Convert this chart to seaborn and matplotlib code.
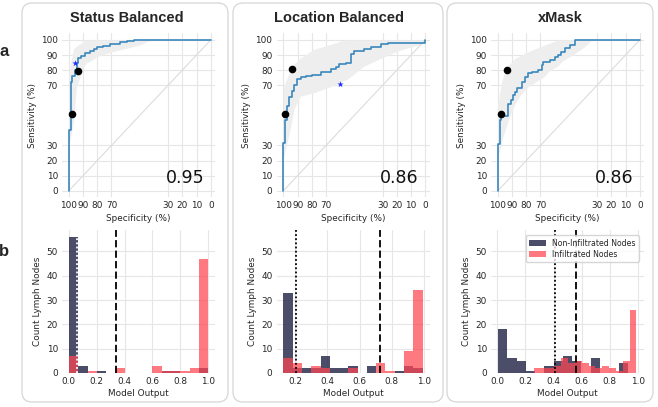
import numpy as np
import pandas as pd
import matplotlib
matplotlib.use("Agg")
import matplotlib.pyplot as plt
import seaborn as sns
from matplotlib.patches import FancyBboxPatch
from matplotlib.transforms import IdentityTransform

# ---------------- data ----------------
titles = ["Status Balanced", "Location Balanced", "xMask"]
auc_labels = ["0.95", "0.86", "0.86"]

# ROC curves: (specificity, sensitivity) at top corner of each vertical step
spec1 = [100, 100, 98.5, 97.5, 96.0, 94.6, 93.4, 91.8, 88.7, 85.2, 82.5, 80.5, 75.8, 71.0, 64.0, 59.3, 54.0, 0]
sens1 = [0, 40, 72, 76, 80, 84.4, 87.8, 89.3, 91.0, 92.7, 94.0, 95.1, 96.2, 97.3, 98.4, 99.0, 100, 100]
spec2 = [100, 100, 98.8, 97.4, 96.2, 93.9, 92.5, 90.3, 87.9, 84.4, 79.7, 73.8, 66.7, 63.1, 60.8, 56.0, 52.5, 50.0, 43.0, 38.3, 31.2, 26.5, 0, 0]
sens2 = [0, 31.6, 47, 56, 62, 66, 70, 74, 75.3, 76, 77, 78.7, 80.4, 82, 83.8, 85, 90.4, 92.7, 93.8, 95.6, 97.3, 98.2, 98.2, 100]
spec3 = [100, 100, 98.8, 97.9, 92.7, 90.8, 89.2, 88.0, 86.9, 83.3, 81.0, 78.6, 76.3, 71.6, 69.2, 68.0, 63.4, 59.9, 57.5, 55.2, 52.8, 49.3, 45.8, 0]
sens3 = [0, 31, 46.7, 49.3, 57.8, 60, 63.3, 65.6, 67.8, 72, 75.6, 78.2, 79, 80, 83.3, 85.6, 86.7, 88.9, 90, 92.2, 94.4, 96.7, 100, 100]

# confidence bands (sensitivity CI over specificity)
band1_spec = [100, 98, 97, 96.5, 94.6, 92, 91, 87.5, 85, 80, 70, 66, 55, 50, 45, 40, 0]
band1_lo = [30, 40, 45, 50, 69, 76, 80, 85, 86, 89, 92, 93, 95.5, 96.7, 99, 100, 100]
band1_hi = [78, 89, 93, 94.5, 96, 97.5, 98, 100, 100, 100, 100, 100, 100, 100, 100, 100, 100]
band2_spec = [100, 96, 95, 92.7, 88, 78.5, 66.7, 59.6, 55, 43, 31, 19.4, 7.6, 0]
band2_lo = [22, 38, 42, 54, 62.7, 65, 69, 72, 74, 82.7, 88, 92.7, 96, 98]
band2_hi = [69, 78, 80, 84, 88, 93.8, 97, 99.3, 100, 100, 100, 100, 100, 100]
band3_spec = [100, 97.4, 95, 92.7, 88, 83.3, 78.6, 71.6, 66.9, 64.5, 57.5, 55.2, 45.8, 38.7, 34, 0]
band3_lo = [22, 33, 40, 46.7, 57.8, 64.4, 69, 73.3, 76, 79, 83, 85.6, 91, 95.6, 100, 100]
band3_hi = [58, 72, 80, 83, 87.8, 90, 92.2, 95, 96.7, 97.5, 100, 100, 100, 100, 100, 100]

# operating points
dots_spec = [[98.1, 93.4], [98.8, 93.9], [98.1, 93.4]]
dots_sens = [[50.7, 79.6], [51.0, 80.4], [51.0, 80.0]]
star_spec = [[95.8], [60.0], []]
star_sens = [[84.4], [71.0], []]

roc_ticks = [100, 90, 80, 70, 30, 20, 10, 0]
sens_ticks = [0, 10, 20, 30, 70, 80, 90, 100]

# histograms: 15 bins per series over each series' data range
range_non_inf = [[0.0024, 0.9976], [0.128, 0.99], [0.004, 0.995]]
range_inf = [[0.0024, 0.9976], [0.128, 0.99], [0.259, 0.991]]
non_inf1 = [56, 3, 0, 1, 0, 0, 0, 0, 0, 0, 1, 1, 0, 0, 2]
inf1 = [7, 0, 1, 0, 0, 2, 0, 0, 0, 3, 1, 1, 1, 2, 47]
non_inf2 = [33, 2, 2, 2, 7, 2, 2, 3, 0, 3, 0, 0, 1, 3, 2]
inf2 = [6, 4, 0, 3, 2, 0, 0, 2, 0, 0, 4, 1, 0, 9, 34]
non_inf3 = [18, 6, 5, 1, 0, 3, 5, 7, 5, 0, 6, 0, 0, 4, 0]
inf3 = [2, 2, 2, 3, 6, 4, 5, 4, 3, 2, 3, 2, 1, 5, 26]
dotted_thr = [0.062, 0.204, 0.408]
dashed_thr = [0.336, 0.729, 0.559]
hist_xticks = [[0, 0.2, 0.4, 0.6, 0.8, 1.0], [0.2, 0.4, 0.6, 0.8, 1.0], [0, 0.2, 0.4, 0.6, 0.8, 1.0]]

curves = [(spec1, sens1), (spec2, sens2), (spec3, sens3)]
bands = [(band1_spec, band1_lo, band1_hi), (band2_spec, band2_lo, band2_hi), (band3_spec, band3_lo, band3_hi)]
hists = [(non_inf1, inf1), (non_inf2, inf2), (non_inf3, inf3)]

# ---------------- style ----------------
sns.set_theme(style="whitegrid")
plt.rcParams["font.family"] = ["DejaVu Sans"]
plt.rcParams["grid.color"] = "#e6e6e6"
plt.rcParams["grid.linewidth"] = 0.8

NAVY = "#252748"
RED = "#ff4550"
BLUE = "#3a87bd"

W, H = 658, 407
fig = plt.figure(figsize=(W / 100, H / 100), dpi=100)

# panel boxes
boxes = [(22, 228), (233, 443), (447, 653)]
for x0, x1 in boxes:
    p = FancyBboxPatch((x0, H - 402), x1 - x0, 399, boxstyle="round,pad=0,rounding_size=10",
                       transform=IdentityTransform(), facecolor="white", edgecolor="#d6d6d6",
                       linewidth=0.9, zorder=0)
    fig.add_artist(p)

title_x = [126.5, 339, 560.5]
for i in range(3):
    fig.text(title_x[i] / W, 1 - 17.5 / H, titles[i], ha="center", va="center",
             fontsize=10.5, fontweight="bold", family="Liberation Sans")

fig.text(4 / W, 1 - 51 / H, "a", ha="center", va="center", fontsize=12, fontweight="bold", family="Liberation Sans")
fig.text(4 / W, 1 - 251 / H, "b", ha="center", va="center", fontsize=12, fontweight="bold", family="Liberation Sans")


def bin_table(rng, counts):
    lo, hi = rng
    edges = [float(e) for e in np.linspace(lo, hi, len(counts) + 1)]
    centers = [(edges[k] + edges[k + 1]) / 2 for k in range(len(counts))]
    return edges, pd.DataFrame({"x": centers, "w": counts})


FS = 6.4
for i in range(3):
    left = (62 + 214.5 * i) / W
    # ---------- ROC ----------
    ax = fig.add_axes([left, 1 - 197 / H, 153 / W, 164 / H])
    bs, blo, bhi = bands[i]
    ax.fill_between(bs, blo, bhi, color="#eeeeee", linewidth=0, zorder=1)
    sns.lineplot(x=[100, 0], y=[0, 100], ax=ax, color="#dcdcdc", linewidth=0.8, zorder=2)
    sx, sy = curves[i]
    sns.lineplot(x=sx, y=sy, ax=ax, sort=False, estimator=None, drawstyle="steps-post",
                 color=BLUE, linewidth=1.2, zorder=3)
    sns.scatterplot(x=dots_spec[i], y=dots_sens[i], ax=ax, color="black", s=30, linewidth=0, zorder=4)
    if star_spec[i]:
        sns.scatterplot(x=star_spec[i], y=star_sens[i], ax=ax, color="#1f2bff", marker="*",
                        s=22, linewidth=0, zorder=4)
    ax.set_xlim(104.9, -3)
    ax.set_ylim(-4.2, 104.6)
    ax.set_xticks(roc_ticks)
    ax.set_xticklabels([str(t) for t in roc_ticks])
    ax.set_yticks(sens_ticks)
    ax.set_yticklabels([str(t) for t in sens_ticks])
    ax.tick_params(labelsize=FS, length=0, pad=3)
    ax.set_xlabel("Specificity (%)", fontsize=FS, labelpad=3)
    ax.set_ylabel("Sensitivity (%)", fontsize=FS, labelpad=3)
    for s in ax.spines.values():
        s.set_visible(False)
    ax.text(4.5, 5, auc_labels[i], ha="right", va="baseline", fontsize=12.5, color="#111111", zorder=5)

    # ---------- histogram ----------
    hx = fig.add_axes([left, 1 - 373 / H, 153 / W, 143 / H])
    n_cnt, i_cnt = hists[i]
    edges_n, dfn = bin_table(range_non_inf[i], n_cnt)
    edges_i, dfi = bin_table(range_inf[i], i_cnt)
    sns.histplot(data=dfn, x="x", weights="w", bins=edges_n, ax=hx, color=NAVY, alpha=0.82,
                 linewidth=0, label="Non-Infiltrated Nodes", zorder=2)
    sns.histplot(data=dfi, x="x", weights="w", bins=edges_i, ax=hx, color=RED, alpha=0.72,
                 linewidth=0, label="Infiltrated Nodes", zorder=3)
    dcol = "white" if i == 0 else "black"
    hx.axvline(dotted_thr[i], color=dcol, linestyle=(0, (1, 1.3)), linewidth=1.3, zorder=4)
    hx.axvline(dashed_thr[i], color="black", linestyle=(0, (4, 1.8)), linewidth=1.3, zorder=4)
    hx.set_ylim(0, 58.8)
    hx.set_yticks([0, 10, 20, 30, 40, 50])
    hx.set_xticks(hist_xticks[i])
    hx.tick_params(labelsize=FS, length=0, pad=3)
    hx.set_xlabel("Model Output", fontsize=FS, labelpad=2)
    hx.set_ylabel("Count Lymph Nodes", fontsize=FS, labelpad=3)
    for s in hx.spines.values():
        s.set_visible(False)
    if i == 2:
        hx.legend(loc="upper right", fontsize=5.6, frameon=True, handlelength=2.2,
                  borderpad=0.4, labelspacing=0.3, borderaxespad=0.7)

fig.savefig("out.png", dpi=100)
